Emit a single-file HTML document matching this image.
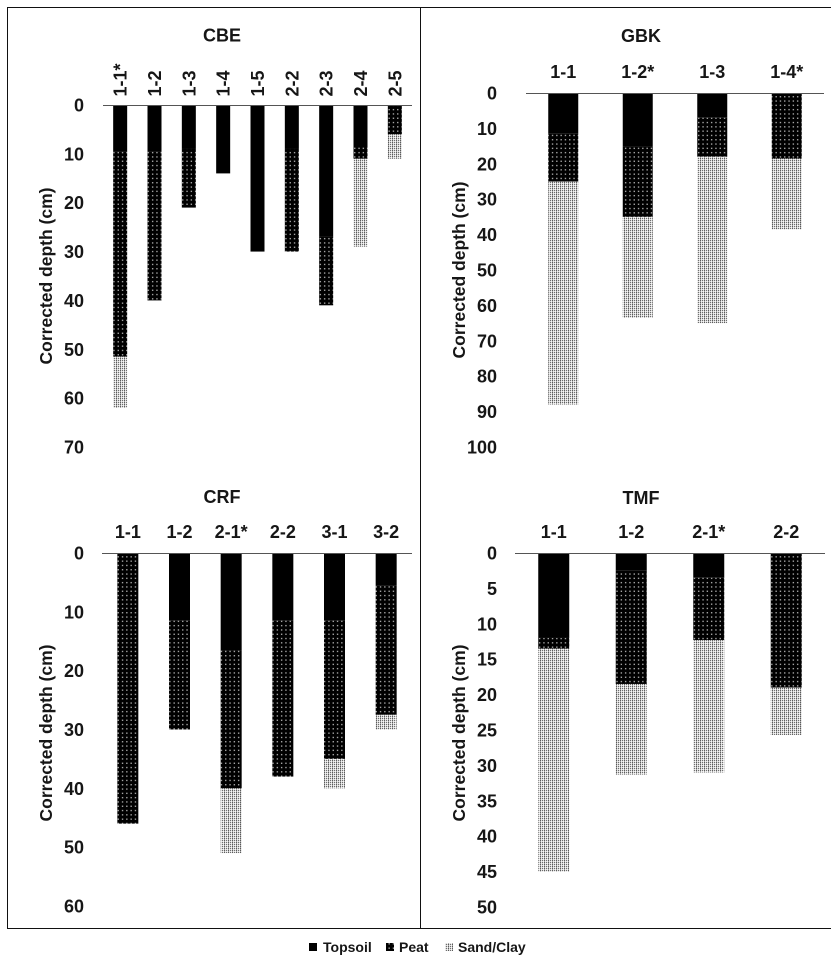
<!DOCTYPE html>
<html lang="en">
<head>
<meta charset="utf-8">
<title>Corrected depth by site</title>
<style>
html,body{margin:0;padding:0;background:#fff;}
body{width:831px;height:965px;overflow:hidden;}
svg{display:block;}
text{font-family:"Liberation Sans",Arial,sans-serif;font-weight:700;fill:#161616;}
</style>
</head>
<body>
<svg id="figure" width="831" height="965" viewBox="0 0 831 965" xmlns="http://www.w3.org/2000/svg">
<defs>
<pattern id="peat-fill" width="4.3" height="4.3" patternUnits="userSpaceOnUse">
<rect width="4.3" height="4.3" fill="#000"/>
<rect x="1.5" y="1.5" width="1.3" height="1.3" fill="#bdbdbd"/>
</pattern>
<pattern id="sand-fill" width="4" height="2" patternUnits="userSpaceOnUse">
<rect width="4" height="2" fill="#dcdcdc"/>
<rect x="0" y="0" width="1" height="1" fill="#5a5a5a"/>
<rect x="2" y="0" width="1" height="1" fill="#6e6e6e"/>
<rect x="1" y="1" width="1" height="1" fill="#f2f2f2"/>
<rect x="3" y="1" width="1" height="1" fill="#f8f8f8"/>
<rect x="0" y="1" width="1" height="1" fill="#a8a8a8"/>
</pattern>
</defs>
<rect width="831" height="965" fill="#fff"/>
<line x1="7" y1="7.5" x2="831" y2="7.5" stroke="#111" stroke-width="1"/>
<line x1="7.5" y1="7" x2="7.5" y2="928" stroke="#111" stroke-width="1"/>
<line x1="420.5" y1="7" x2="420.5" y2="928" stroke="#111" stroke-width="1"/>
<line x1="7" y1="928.5" x2="831" y2="928.5" stroke="#111" stroke-width="1"/>
<g id="charts"></g>
<g>
<g>
<rect x="309" y="943" width="8" height="8" fill="#000"/>
<text x="323" y="952" font-size="14">Topsoil</text>
</g>
<g>
<rect x="386" y="943" width="8" height="8" fill="url(#peat-fill)"/>
<text x="399" y="952" font-size="14">Peat</text>
</g>
<g>
<rect x="445" y="943" width="8" height="8" fill="url(#sand-fill)"/>
<text x="458" y="952" font-size="14">Sand/Clay</text>
</g>
</g>
</svg>
<script>
// Layer thicknesses are in cm.
const cbeCategories = ['1-1*','1-2','1-3','1-4','1-5','2-2','2-3','2-4','2-5'];
const cbeTopsoil = [9.5,9.5,9,14,30,9,27,8.7,0];
const cbePeat = [42,30.5,12,0,0,21,14,2.3,6];
const cbeSand = [10.5,0,0,0,0,0,0,18,5];
const cbeTicks = [0,10,20,30,40,50,60,70];

const gbkCategories = ['1-1','1-2*','1-3','1-4*'];
const gbkTopsoil = [11.5,15,7,0];
const gbkPeat = [13.5,20,11,18.5];
const gbkSand = [63,28.5,47,20];
const gbkTicks = [0,10,20,30,40,50,60,70,80,90,100];

const crfCategories = ['1-1','1-2','2-1*','2-2','3-1','3-2'];
const crfTopsoil = [0,11.5,16.5,11.5,11.5,5.5];
const crfPeat = [46,18.5,23.5,26.5,23.5,22];
const crfSand = [0,0,11,0,5,2.5];
const crfTicks = [0,10,20,30,40,50,60];

const tmfCategories = ['1-1','1-2','2-1*','2-2'];
const tmfTopsoil = [12,2.5,3.5,0];
const tmfPeat = [1.5,16,8.8,19];
const tmfSand = [31.5,12.8,18.7,6.7];
const tmfTicks = [0,5,10,15,20,25,30,35,40,45,50];

const SVG_NS = 'http://www.w3.org/2000/svg';
const root = document.getElementById('charts');

function makeEl(tag, attrs, parent) {
  const el = document.createElementNS(SVG_NS, tag);
  for (const k in attrs) el.setAttribute(k, attrs[k]);
  parent.appendChild(el);
  return el;
}

function drawPanel(p) {
  const group = makeEl('g', {}, root);
  
  

  const maxTick = p.ticks[p.ticks.length - 1];
  const yScale = function (v) { return p.top + (v / maxTick) * (p.bottom - p.top); };
  const band = (p.right - p.left) / p.categories.length;
  const xScale = function (i) { return p.left + band * (i + 0.5); };

  const title = makeEl('text', {x: p.titleX, y: p.titleY, 'font-size': 18, 'text-anchor': 'middle'}, group);
  
  
  title.textContent = p.title;

  const axisTitle = makeEl('text', {
    transform: 'translate(' + p.axisTitleX + ',' + p.axisTitleY + ') rotate(-90)',
    'font-size': 17.5, 'text-anchor': 'middle'
  }, group);
  
  
  axisTitle.textContent = 'Corrected depth (cm)';

  p.ticks.forEach(function (t) {
    const tick = makeEl('text', {x: p.tickX, y: yScale(t) + 6.5, 'font-size': 18, 'text-anchor': 'end'}, group);
    
    
    tick.textContent = t;
  });

  p.categories.forEach(function (c, i) {
    const cx = xScale(i);
    const layers = [
      {name: 'topsoil', value: p.topsoil[i], fill: '#000'},
      {name: 'peat', value: p.peat[i], fill: 'url(#peat-fill)'},
      {name: 'sand-clay', value: p.sand[i], fill: 'url(#sand-fill)'}
    ];
    let depth = 0;
    layers.forEach(function (layer) {
      if (layer.value > 0) {
        const y0 = yScale(depth);
        const y1 = yScale(depth + layer.value);
        const bar = makeEl('rect', {x: cx - p.barWidth / 2, y: y0, width: p.barWidth, height: y1 - y0, fill: layer.fill}, group);
        
        
      }
      depth += layer.value;
    });

    let label;
    if (p.rotatedLabels) {
      label = makeEl('text', {
        transform: 'translate(' + (cx + 6.5) + ',' + (p.top - 8.5) + ') rotate(-90)',
        'font-size': 18, 'text-anchor': 'start'
      }, group);
    } else {
      label = makeEl('text', {x: cx, y: p.top - 15, 'font-size': 18, 'text-anchor': 'middle'}, group);
    }
    
    
    label.textContent = c;
  });

  const axis = makeEl('line', {x1: p.left, x2: p.right, y1: p.top + 0.5, y2: p.top + 0.5, stroke: '#555', 'stroke-width': 1}, group);
  
  
}

drawPanel({key: 'cbe', title: 'CBE', categories: cbeCategories, topsoil: cbeTopsoil, peat: cbePeat, sand: cbeSand, ticks: cbeTicks,
  left: 103, right: 412, top: 105, bottom: 447, barWidth: 14, tickX: 84, titleX: 222, titleY: 41.5, axisTitleX: 52, axisTitleY: 276, rotatedLabels: true});
drawPanel({key: 'gbk', title: 'GBK', categories: gbkCategories, topsoil: gbkTopsoil, peat: gbkPeat, sand: gbkSand, ticks: gbkTicks,
  left: 526, right: 824, top: 93, bottom: 447, barWidth: 30, tickX: 497, titleX: 641, titleY: 42, axisTitleX: 465, axisTitleY: 270, rotatedLabels: false});
drawPanel({key: 'crf', title: 'CRF', categories: crfCategories, topsoil: crfTopsoil, peat: crfPeat, sand: crfSand, ticks: crfTicks,
  left: 102, right: 412, top: 553, bottom: 906, barWidth: 21, tickX: 84, titleX: 222, titleY: 503, axisTitleX: 52, axisTitleY: 733, rotatedLabels: false});
drawPanel({key: 'tmf', title: 'TMF', categories: tmfCategories, topsoil: tmfTopsoil, peat: tmfPeat, sand: tmfSand, ticks: tmfTicks,
  left: 515, right: 825, top: 553, bottom: 907, barWidth: 31, tickX: 497, titleX: 641, titleY: 504, axisTitleX: 465, axisTitleY: 733, rotatedLabels: false});
</script>
</body>
</html>
